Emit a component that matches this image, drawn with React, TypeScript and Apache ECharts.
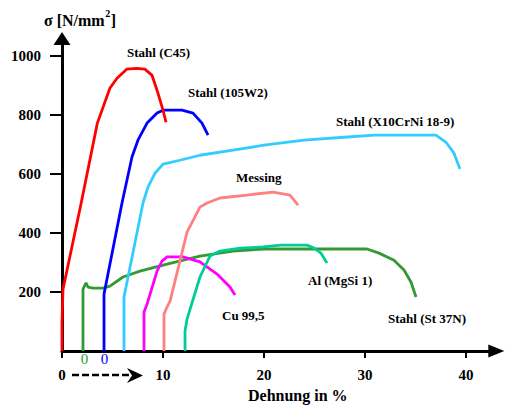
import React, { useEffect, useRef } from 'react';
import * as echarts from 'echarts';

const xTicks = [0, 10, 20, 30, 40];
const yTicks = [200, 400, 600, 800, 1000];

const stahlC45 = [[0, 0], [0, 98], [0.1, 210], [1.9, 502], [3.5, 773], [4.75, 892], [5.45, 925], [6.4, 956], [7.4, 959], [8.2, 956], [8.9, 936], [9.5, 875], [10.0, 817], [10.3, 776]];
const stahl105W2 = [[4.16, 0], [4.16, 193], [5.94, 502], [6.93, 658], [7.52, 715], [8.42, 773], [9.41, 807], [10.0, 817], [11.88, 817], [12.97, 807], [13.86, 773], [14.46, 732]];
const stahlX10 = [[6.14, 0], [6.14, 183], [8.02, 502], [8.51, 556], [9.21, 603], [10.0, 634], [11.68, 647], [13.66, 664], [16.93, 681], [20.0, 698], [23.96, 715], [27.92, 725], [30.89, 732], [37.03, 732], [38.02, 708], [38.81, 671], [39.4, 617]];
const messing = [[10.1, 0], [10.1, 125], [10.4, 149], [10.7, 169], [12.38, 403], [13.66, 488], [14.36, 502], [15.64, 519], [18.3, 529], [20.9, 539], [22.57, 529], [23.37, 495]];
const cu995 = [[8.12, 0], [8.12, 132], [8.42, 159], [9.41, 271], [9.9, 305], [10.4, 319], [11.98, 319], [13.66, 302], [15.35, 261], [16.63, 217], [17.13, 190]];
const alMgSi1 = [[12.18, 0], [12.18, 68], [12.38, 108], [13.66, 251], [14.65, 322], [15.64, 339], [17.62, 349], [19.9, 353], [21.68, 359], [24.26, 359], [24.95, 349], [25.64, 332], [26.24, 298]];
const stahlSt37N = [[2.08, 0], [2.08, 210], [2.38, 231], [2.57, 217], [3.07, 213], [4.06, 213], [4.75, 220], [6.04, 251], [7.72, 271], [10.4, 295], [13.66, 322], [16.93, 339], [19.9, 346], [23.27, 346], [30.2, 346], [31.39, 332], [32.87, 308], [33.86, 275], [34.55, 234], [35.05, 183]];

const seriesNames = ['Stahl (St 37N)', 'Cu 99,5', 'Messing', 'Al (MgSi 1)', 'Stahl (X10CrNi 18-9)', 'Stahl (105W2)', 'Stahl (C45)'];
const seriesData = [stahlSt37N, cu995, messing, alMgSi1, stahlX10, stahl105W2, stahlC45];
const seriesColors = ['#339933', '#ff00ff', '#ff8080', '#00cc99', '#33ccff', '#0000ff', '#ff0000'];

const SERIF = "'Liberation Serif', 'Times New Roman', serif";

export default function App() {
  const ref = useRef<HTMLDivElement>(null);
  useEffect(() => {
    const chart = echarts.init(ref.current!, null, { renderer: 'svg' });
    const txt = (size: number, weight = 'bold') => ({ fontSize: size, fontWeight: weight, fontFamily: SERIF });
    const curveLabels = [
      { text: 'Stahl (C45)', x: 127, y: 52 },
      { text: 'Stahl (105W2)', x: 188, y: 92 },
      { text: 'Stahl (X10CrNi 18-9)', x: 336, y: 121 },
      { text: 'Messing', x: 236, y: 177 },
      { text: 'Al (MgSi 1)', x: 308, y: 280 },
      { text: 'Cu 99,5', x: 222, y: 315 },
      { text: 'Stahl (St 37N)', x: 388, y: 318 },
    ];
    chart.setOption({
      animation: false,
      backgroundColor: '#ffffff',
      grid: { left: 62, right: 31.7, top: 38.5, bottom: 58, outerBoundsMode: 'none' },
      xAxis: {
        type: 'value',
        min: 0,
        max: 43,
        interval: 10,
        splitLine: { show: false },
        axisLine: { show: true, symbol: ['none', 'triangle'], symbolSize: [13, 16], lineStyle: { color: '#000', width: 3 } },
        axisTick: { show: true, length: 7, customValues: xTicks, lineStyle: { color: '#000', width: 2 } },
        axisLabel: { customValues: xTicks, margin: 16, color: '#000', formatter: (v: number) => String(v), ...txt(15) },
      },
      yAxis: {
        type: 'value',
        min: 0,
        max: 1060,
        interval: 200,
        splitLine: { show: false },
        axisLine: { show: true, symbol: ['none', 'triangle'], symbolSize: [17, 13], lineStyle: { color: '#000', width: 3 } },
        axisTick: { show: true, length: 12, customValues: yTicks, lineStyle: { color: '#000', width: 2 } },
        axisLabel: { customValues: yTicks, margin: 21, color: '#000', formatter: (v: number) => String(v), ...txt(15) },
      },
      series: seriesData.map((d, i) => ({
        type: 'line',
        name: seriesNames[i],
        data: d,
        showSymbol: false,
        symbol: 'none',
        lineStyle: { color: seriesColors[i], width: 2.8 },
        itemStyle: { color: seriesColors[i] },
      })),
      graphic: [
        {
          type: 'text',
          left: 44,
          top: 8,
          style: {
            text: '{a|σ [N/mm}{s|2}{a|]}',
            fill: '#000',
            rich: {
              a: { ...txt(16), lineHeight: 20, verticalAlign: 'bottom', fill: '#000' },
              s: { ...txt(10), lineHeight: 20, verticalAlign: 'top', fill: '#000', padding: [0, 0.5, 0, 0.5] },
            },
          },
        },
        { type: 'text', left: 248, top: 387, style: { text: 'Dehnung in %', ...txt(16), fill: '#000' } },
        ...curveLabels.map((l) => ({ type: 'text', x: l.x, y: l.y, style: { text: l.text, ...txt(13), fill: '#000', verticalAlign: 'middle' } })),
        { type: 'text', x: 84.5, y: 359, style: { text: '0', ...txt(15, 'normal'), fill: '#339933', align: 'center', verticalAlign: 'middle' } },
        { type: 'text', x: 104.5, y: 359, style: { text: '0', ...txt(15, 'normal'), fill: '#0000ff', align: 'center', verticalAlign: 'middle' } },
        { type: 'line', shape: { x1: 72, y1: 375, x2: 130, y2: 375 }, style: { stroke: '#000', lineWidth: 2.5, lineDash: [7, 3] } },
        { type: 'polygon', shape: { points: [[127, 368], [143, 375.5], [127, 383], [132, 375.5]] }, style: { fill: '#000' } },
      ],
    });
    return () => chart.dispose();
  }, []);
  return <div ref={ref} style={{ position: 'absolute', left: 0, top: 0, width: 528, height: 409, background: '#fff' }} />;
}
